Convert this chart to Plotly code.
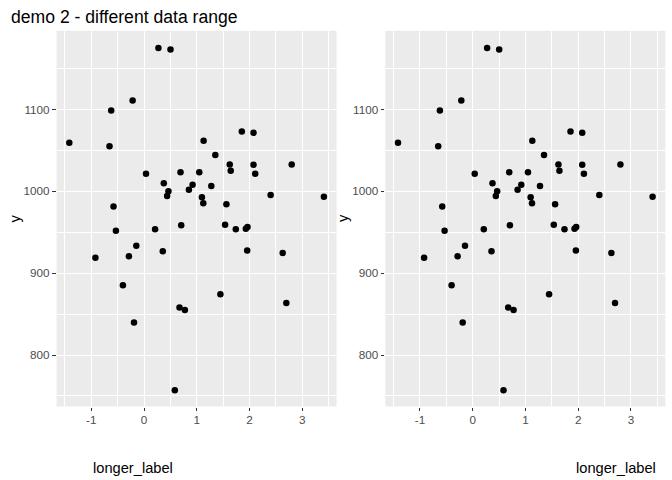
import plotly.graph_objects as go

W, H = 672, 480

x_vals = [-1.416, 0.273, 0.502, -0.216, -0.622, -0.654, 1.130, 1.854, 2.076, 1.352,
          1.625, 1.644, 2.076, 2.108, 2.800, 0.038, 0.692, 1.048, 0.375, 0.921,
          1.276, 0.463, 0.438, 0.851, 1.098, 1.124, 1.562, 2.400, 3.410, -0.578,
          -0.533, 0.210, 0.705, 1.537, 1.740, 1.930, 1.962, 1.956, -0.146, 0.356,
          -0.921, -0.286, 2.629, -0.400, 1.448, 2.698, 0.673, 0.775, -0.190, 0.584]
y_vals = [1059.3, 1175.2, 1173.2, 1111.0, 1098.8, 1054.9, 1061.8, 1073.2, 1071.5, 1044.3,
          1032.9, 1025.2, 1032.5, 1021.5, 1032.9, 1021.5, 1023.2, 1023.2, 1009.8, 1008.1,
          1006.5, 1000.0, 994.3, 1002.0, 992.7, 985.4, 984.1, 995.5, 993.5, 981.3,
          951.8, 953.5, 958.4, 959.2, 953.5, 954.3, 956.3, 927.8, 933.5, 926.9,
          918.8, 920.8, 924.5, 885.3, 874.3, 863.7, 858.0, 855.1, 839.6, 757.1]

title_text = "demo 2 - different data range"
x_title = "longer_label"
y_title = "y"
x_ticks = [-1, 0, 1, 2, 3]
y_ticks = [800, 900, 1000, 1100]

FONT = "Liberation Sans, Arial, Helvetica, sans-serif"

def px_x(p):
    return p / W

def px_y(p):
    return 1 - p / H

fig = go.Figure()
for i, ax in enumerate(["", "2"]):
    fig.add_trace(go.Scatter(
        x=x_vals, y=y_vals, mode="markers",
        marker=dict(color="black", size=6.5, line=dict(width=0)),
        xaxis="x" + ax, yaxis="y" + ax, showlegend=False, hoverinfo="skip"))

xr = [-1.657, 3.651]
yr = [737.1, 1196.1]

def xaxis(domain, anchor):
    return dict(domain=domain, anchor=anchor, range=xr, tickvals=x_ticks,
                ticktext=[str(t) for t in x_ticks],
                showgrid=True, gridcolor="white", gridwidth=1.1,
                zeroline=False, showline=False,
                ticks="outside", ticklen=3.7, tickwidth=1.1, tickcolor="#333333",
                ticklabelstandoff=-1,
                tickfont=dict(family=FONT, size=11.7, color="#4D4D4D"),
                minor=dict(dtick=0.5, tick0=-1.5, showgrid=True, gridcolor="white",
                           gridwidth=0.55, ticks=""),
                fixedrange=True)

def yaxis(domain, anchor):
    return dict(domain=domain, anchor=anchor, range=yr, tickvals=y_ticks,
                ticktext=[str(t) for t in y_ticks],
                showgrid=True, gridcolor="white", gridwidth=1.1,
                zeroline=False, showline=False,
                ticks="outside", ticklen=3.7, tickwidth=1.1, tickcolor="#333333",
                tickfont=dict(family=FONT, size=11.7, color="#4D4D4D"),
                minor=dict(dtick=50, tick0=750, showgrid=True, gridcolor="white",
                           gridwidth=0.55, ticks=""),
                fixedrange=True)

ydom = [px_y(406.5), px_y(30.8)]
fig.update_layout(
    width=W, height=H,
    margin=dict(l=0, r=0, t=0, b=0),
    paper_bgcolor="white", plot_bgcolor="#EBEBEB",
    xaxis=xaxis([px_x(56.6), px_x(336.6)], "y"),
    yaxis=yaxis(ydom, "x"),
    xaxis2=xaxis([px_x(385.3), px_x(665.3)], "y2"),
    yaxis2=yaxis(ydom, "x2"),
    font=dict(family=FONT),
)

annotations = [
    dict(text=title_text, x=px_x(9), y=px_y(17), xanchor="left", yanchor="middle",
         font=dict(size=17.6, color="black", family=FONT)),
    dict(text=x_title, x=px_x(91), y=px_y(468), xanchor="left", yanchor="middle",
         font=dict(size=14.67, color="black", family=FONT)),
    dict(text=x_title, x=px_x(657.5), y=px_y(468), xanchor="right", yanchor="middle",
         font=dict(size=14.67, color="black", family=FONT)),
    dict(text=y_title, x=px_x(14), y=px_y(218.5), xanchor="center", yanchor="middle",
         textangle=-90, font=dict(size=14.67, color="black", family=FONT)),
    dict(text=y_title, x=px_x(342.5), y=px_y(218.5), xanchor="center", yanchor="middle",
         textangle=-90, font=dict(size=14.67, color="black", family=FONT)),
]
for a in annotations:
    a.update(xref="paper", yref="paper", showarrow=False)
fig.update_layout(annotations=annotations)

fig.write_html("out.html")
